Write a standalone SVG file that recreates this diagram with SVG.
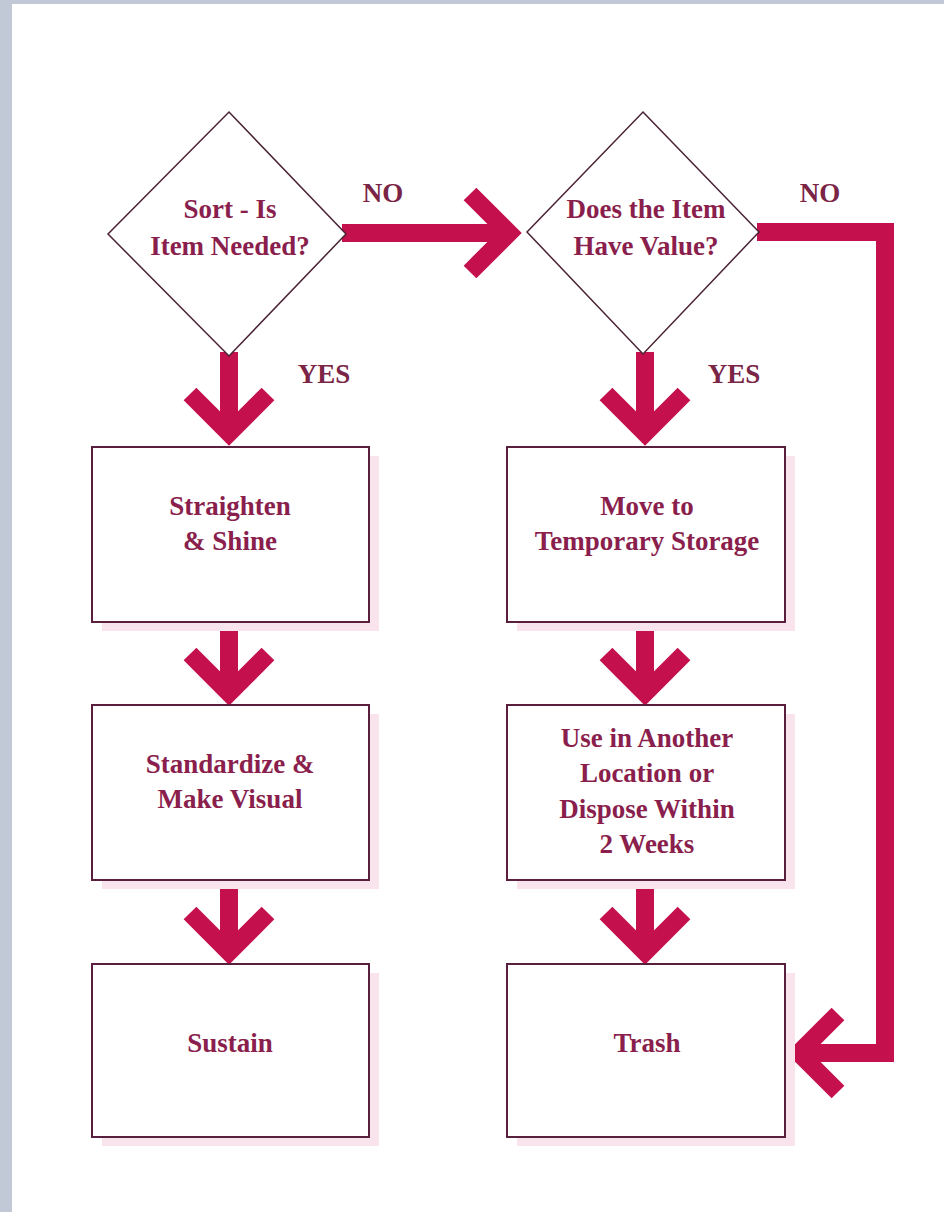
<svg xmlns="http://www.w3.org/2000/svg" width="944" height="1212" viewBox="0 0 944 1212">
<defs>
<style>
.bg{fill:#ffffff}
.strip{fill:#c2c9d6}
.shadow{fill:#f9e4ee}
.box{fill:#ffffff;stroke:#5a1f3d;stroke-width:2}
.dia{fill:#ffffff;stroke:#4a2235;stroke-width:1.5}
.t{font-family:"Liberation Serif","Times New Roman",serif;font-weight:bold;font-size:27px;fill:#8a1f4d;text-anchor:middle}
.lbl{font-family:"Liberation Serif","Times New Roman",serif;font-weight:bold;font-size:27px;fill:#7a2446;text-anchor:middle}
.c{fill:none;stroke:#c5104e;stroke-width:18;stroke-linejoin:miter;stroke-miterlimit:4;stroke-linecap:butt}
</style>
</defs>
<rect class="bg" x="0" y="0" width="944" height="1212"/>
<rect class="strip" x="0" y="0" width="12" height="1212"/>
<rect class="strip" x="0" y="0" width="944" height="4"/>

<g id="connectors">
  <line class="c" x1="229" y1="352" x2="229" y2="436"/>
  <polyline class="c" points="190,394 229,433 268,394"/>
  <line class="c" x1="645" y1="352" x2="645" y2="436"/>
  <polyline class="c" points="606,394 645,433 684,394"/>
  <line class="c" x1="229" y1="622" x2="229" y2="694"/>
  <polyline class="c" points="190,654 229,693 268,654"/>
  <line class="c" x1="645" y1="622" x2="645" y2="694"/>
  <polyline class="c" points="606,654 645,693 684,654"/>
  <line class="c" x1="229" y1="880" x2="229" y2="953"/>
  <polyline class="c" points="190,913 229,952 268,913"/>
  <line class="c" x1="645" y1="880" x2="645" y2="953"/>
  <polyline class="c" points="606,913 645,952 684,913"/>
  <line class="c" x1="342" y1="233" x2="509" y2="233"/>
  <polyline class="c" points="470,194 509,233 470,272"/>
  <polyline class="c" points="757,232 885,232 885,1053 800,1053"/>
  <polyline class="c" points="838,1014 799,1053 838,1092"/>
  <text class="lbl" x="383" y="202">NO</text>
  <text class="lbl" x="820" y="202">NO</text>
  <text class="lbl" x="324" y="383">YES</text>
  <text class="lbl" x="734" y="383">YES</text>
</g>

<g id="sort">
  <polygon class="dia" points="229,112 346,234 229,356 108,234"/>
  <text class="t" x="230" y="218">Sort - Is</text>
  <text class="t" x="230" y="255">Item Needed?</text>
</g>
<g id="value">
  <polygon class="dia" points="643,112 759,232 643,354 527,232"/>
  <text class="t" x="646" y="218">Does the Item</text>
  <text class="t" x="646" y="255">Have Value?</text>
</g>

<g id="straighten">
  <rect class="shadow" x="102" y="456" width="277" height="175"/>
  <rect class="box" x="92" y="447" width="277" height="175"/>
  <text class="t" x="230" y="515">Straighten</text>
  <text class="t" x="230" y="550">&amp; Shine</text>
</g>
<g id="standardize">
  <rect class="shadow" x="102" y="714" width="277" height="175"/>
  <rect class="box" x="92" y="705" width="277" height="175"/>
  <text class="t" x="230" y="773">Standardize &amp;</text>
  <text class="t" x="230" y="808">Make Visual</text>
</g>
<g id="sustain">
  <rect class="shadow" x="102" y="973" width="277" height="173"/>
  <rect class="box" x="92" y="964" width="277" height="173"/>
  <text class="t" x="230" y="1052">Sustain</text>
</g>
<g id="move">
  <rect class="shadow" x="517" y="456" width="278" height="175"/>
  <rect class="box" x="507" y="447" width="278" height="175"/>
  <text class="t" x="647" y="515">Move to</text>
  <text class="t" x="647" y="550">Temporary Storage</text>
</g>
<g id="use">
  <rect class="shadow" x="517" y="714" width="278" height="175"/>
  <rect class="box" x="507" y="705" width="278" height="175"/>
  <text class="t" x="647" y="747">Use in Another</text>
  <text class="t" x="647" y="782">Location or</text>
  <text class="t" x="647" y="818">Dispose Within</text>
  <text class="t" x="647" y="853">2 Weeks</text>
</g>
<g id="trash">
  <rect class="shadow" x="517" y="973" width="278" height="173"/>
  <rect class="box" x="507" y="964" width="278" height="173"/>
  <text class="t" x="647" y="1052">Trash</text>
</g>
</svg>
